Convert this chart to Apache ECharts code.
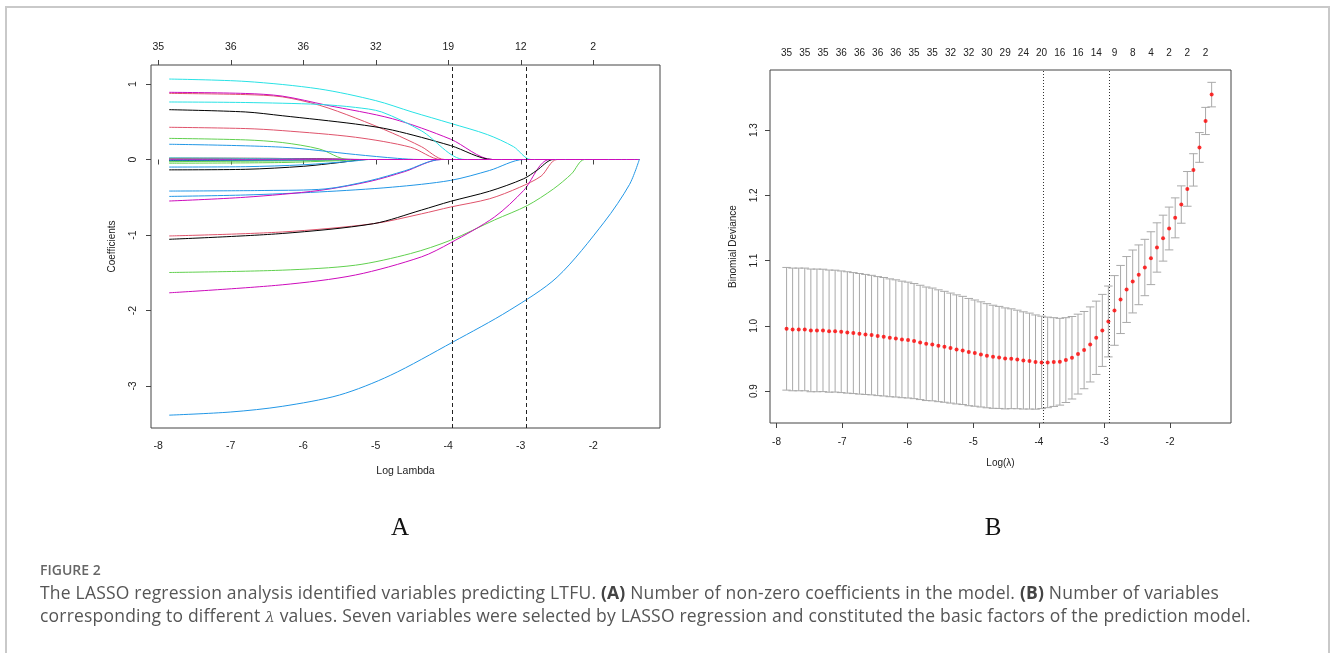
<!DOCTYPE html>
<html>
<head>
<meta charset="utf-8">
<title>Figure 2 - LASSO regression</title>
<script src="https://cdn.jsdelivr.net/npm/echarts@6/dist/echarts.min.js"></script>
<style>
  html, body { margin: 0; padding: 0; background: #fff; }
  body { width: 1330px; height: 653px; position: relative; overflow: hidden; }
  #frame { position: absolute; left: 5px; top: 6px; width: 1325px; height: 720px;
           border: 2px solid #c9c9c9; box-sizing: border-box; }
  #chart { position: absolute; left: 0; top: 0; width: 1330px; height: 653px; }
  .panel { position: absolute; top: 513px; width: 40px; margin-left: -20px; text-align: center;
           font-family: "Liberation Serif", serif; font-size: 25px; line-height: 28px; color: #111; }
  #caption { position: absolute; left: 40px; top: 560px; font-family: "Open Sans", sans-serif; color: #555; }
  #caption .fig { font-size: 14px; line-height: 20px; font-weight: 600; color: #666; }
  #caption .txt { margin-top: 1px; font-size: 17.5px; letter-spacing: 0.2px; line-height: 23px; white-space: nowrap; }
  #caption b { color: #444; }
  #caption i { font-family: "DejaVu Serif", serif; font-size: 15px; }
</style>
</head>
<body>
<div id="frame"></div>
<div id="chart"></div>
<div class="panel" style="left:400px">A</div>
<div class="panel" style="left:993px">B</div>
<div id="caption">
  <div class="fig">FIGURE 2</div>
  <div class="txt">The LASSO regression analysis identified variables predicting LTFU. <b>(A)</b> Number of non-zero coefficients in the model. <b>(B)</b> Number of variables<br>corresponding to different <i>λ</i> values. Seven variables were selected by LASSO regression and constituted the basic factors of the prediction model.</div>
</div>
<script>
// ---- panel A: coefficient paths, [log lambda, coefficient] knots per variable ----
const pathTicks = [-8, -7, -6, -5, -4, -3, -2];
const pathNonzero = [35, 36, 36, 32, 19, 12, 2];
const coefTicks = [-3, -2, -1, 0, 1];

const positivePaths = [
  { v: 2,  pts: [[-7.85, 0.876], [-6.8, 0.86], [-6.29, 0.83], [-5.78, 0.72], [-5.28, 0.55], [-4.77, 0.35], [-4.37, 0.17], [-4.05, 0], [-1.365, 0]] },
  { v: 3,  pts: [[-7.85, 0.28], [-6.8, 0.26], [-6.29, 0.225], [-5.78, 0.14], [-5.38, 0], [-1.365, 0]] },
  { v: 5,  pts: [[-7.85, 1.066], [-6.79, 1.034], [-5.78, 0.935], [-5.0, 0.78], [-4.5, 0.63], [-3.97, 0.48], [-3.46, 0.33], [-3.1, 0.17], [-2.86, 0], [-1.365, 0]] },
  { v: 6,  pts: [[-7.85, 0.89], [-6.8, 0.875], [-6.29, 0.84], [-5.68, 0.72], [-4.77, 0.54], [-3.97, 0.27], [-3.39, 0], [-1.365, 0]] },
  { v: 7,  pts: [[-7.85, 0.66], [-6.8, 0.63], [-6.29, 0.58], [-5.28, 0.47], [-4.77, 0.39], [-3.97, 0.185], [-3.39, 0], [-1.365, 0]] },
  { v: 8,  pts: [[-7.85, 0.427], [-6.8, 0.41], [-6.29, 0.383], [-5.28, 0.295], [-4.52, 0.163], [-4.1, 0], [-1.365, 0]] },
  { v: 11, pts: [[-7.85, 0.762], [-6.8, 0.755], [-5.78, 0.73], [-5.28, 0.69], [-4.92, 0.63], [-4.37, 0.38], [-3.77, 0], [-1.365, 0]] },
  { v: 28, pts: [[-7.85, 0.202], [-6.29, 0.163], [-5.28, 0.066], [-4.7, 0.015], [-4.4, 0], [-1.365, 0]] },
];

const negativePaths = [
  { v: 4,  pts: [[-7.85, -3.387], [-7.0, -3.345], [-6.29, -3.27], [-5.5, -3.12], [-4.8, -2.86], [-3.94, -2.42], [-3.16, -2.0], [-2.5, -1.56], [-1.85, -0.83], [-1.5, -0.33], [-1.365, 0]] },
  { v: 9,  pts: [[-7.85, -1.497], [-6.29, -1.466], [-5.28, -1.40], [-4.52, -1.246], [-3.97, -1.07], [-3.36, -0.80], [-2.91, -0.61], [-2.55, -0.39], [-2.3, -0.19], [-2.12, 0], [-1.365, 0]] },
  { v: 10, pts: [[-7.85, -0.489], [-6.8, -0.47], [-5.78, -0.43], [-4.77, -0.366], [-3.97, -0.277], [-3.43, -0.145], [-2.96, 0], [-1.365, 0]] },
  { v: 12, pts: [[-7.85, -0.55], [-6.8, -0.50], [-5.78, -0.41], [-5.08, -0.29], [-4.6, -0.16], [-4.1, 0], [-1.365, 0]] },
  { v: 14, pts: [[-7.85, -1.013], [-6.29, -0.96], [-5.03, -0.85], [-4.37, -0.72], [-3.97, -0.63], [-3.43, -0.52], [-3.02, -0.37], [-2.72, -0.22], [-2.50, 0], [-1.365, 0]] },
  { v: 16, pts: [[-7.85, -0.418], [-6.5, -0.41], [-5.7, -0.39], [-5.08, -0.28], [-4.6, -0.15], [-4.1, 0], [-1.365, 0]] },
  { v: 18, pts: [[-7.85, -1.766], [-6.29, -1.66], [-5.28, -1.53], [-4.37, -1.29], [-3.97, -1.105], [-3.36, -0.76], [-2.96, -0.41], [-2.6, 0], [-1.365, 0]] },
  { v: 19, pts: [[-7.85, -1.057], [-6.29, -0.98], [-5.03, -0.85], [-4.37, -0.67], [-3.97, -0.555], [-3.43, -0.42], [-2.96, -0.255], [-2.78, -0.145], [-2.55, 0], [-1.365, 0]] },
];

const nearZeroPaths = [
  { v: 1,  pts: [[-7.85, 0.017], [-6.5, 0.015], [-5.6, 0.006], [-5.2, 0], [-1.365, 0]] },
  { v: 13, pts: [[-7.85, -0.137], [-6.8, -0.13], [-6.0, -0.09], [-5.5, -0.04], [-5.13, 0], [-1.365, 0]] },
  { v: 15, pts: [[-7.85, -0.022], [-6.3, -0.02], [-5.6, -0.008], [-5.4, 0], [-1.365, 0]] },
  { v: 17, pts: [[-7.85, 0.005], [-5.6, 0], [-1.365, 0]] },
  { v: 20, pts: [[-7.85, 0.01], [-5.9, 0], [-1.365, 0]] },
  { v: 21, pts: [[-7.85, -0.049], [-6.3, -0.04], [-5.5, -0.015], [-5.1, 0], [-1.365, 0]] },
  { v: 22, pts: [[-7.85, -0.10], [-6.8, -0.095], [-6.0, -0.07], [-5.3, -0.02], [-5.1, 0], [-1.365, 0]] },
  { v: 23, pts: [[-7.85, -0.015], [-6.0, 0], [-1.365, 0]] },
  { v: 24, pts: [[-7.85, 0.012], [-6.0, 0.008], [-5.3, 0], [-1.365, 0]] },
  { v: 25, pts: [[-7.85, -0.006], [-5.8, 0], [-1.365, 0]] },
  { v: 26, pts: [[-7.85, -0.006], [-5.4, 0], [-1.365, 0]] },
  { v: 27, pts: [[-7.85, -0.03], [-6.2, -0.01], [-5.0, 0], [-1.365, 0]] },
  { v: 29, pts: [[-7.85, 0.02], [-6.4, 0.01], [-5.6, 0], [-1.365, 0]] },
  { v: 30, pts: [[-7.85, -0.004], [-5.0, 0], [-1.365, 0]] },
  { v: 31, pts: [[-7.85, -0.012], [-5.8, 0], [-1.365, 0]] },
  { v: 32, pts: [[-7.85, 0.004], [-6.5, 0], [-1.365, 0]] },
  { v: 33, pts: [[-7.85, 0.006], [-5.2, 0], [-1.365, 0]] },
  { v: 34, pts: [[-7.85, -0.009], [-6.3, -0.008], [-5.2, 0], [-1.365, 0]] },
  { v: 35, pts: [[-7.85, -0.002], [-6.8, 0], [-1.365, 0]] },
  { v: 36, pts: [[-7.85, 0.003], [-5.6, 0.002], [-5.1, 0], [-1.365, 0]] },
];

// ---- panel B: cross-validation curve ----
const logLambda = [
  -7.847, -7.755, -7.662, -7.570, -7.477, -7.384, -7.292, -7.199, -7.107, -7.014,
  -6.921, -6.829, -6.736, -6.644, -6.551, -6.458, -6.366, -6.273, -6.181, -6.088,
  -5.995, -5.903, -5.810, -5.718, -5.625, -5.532, -5.440, -5.347, -5.255, -5.162,
  -5.069, -4.977, -4.884, -4.792, -4.699, -4.606, -4.514, -4.421, -4.329, -4.236,
  -4.143, -4.051, -3.958, -3.866, -3.773, -3.680, -3.588, -3.495, -3.403, -3.310,
  -3.217, -3.125, -3.032, -2.940, -2.847, -2.754, -2.662, -2.569, -2.477, -2.384,
  -2.291, -2.199, -2.106, -2.014, -1.921, -1.828, -1.736, -1.643, -1.551, -1.458,
  -1.365
];
const cvMean = [
  0.9954, 0.9944, 0.9944, 0.9944, 0.9929, 0.9929, 0.9929, 0.9918, 0.9918, 0.9908,
  0.9898, 0.9888, 0.9877, 0.9867, 0.9857, 0.9842, 0.9832, 0.9816, 0.9806, 0.9791,
  0.9781, 0.9765, 0.9745, 0.9724, 0.9714, 0.9694, 0.9678, 0.9658, 0.9638, 0.9622,
  0.9597, 0.9581, 0.9561, 0.9541, 0.9525, 0.9515, 0.9500, 0.9495, 0.9484, 0.9469,
  0.9459, 0.9444, 0.9439, 0.9439, 0.9444, 0.9449, 0.9474, 0.9510, 0.9566, 0.9627,
  0.9714, 0.9816, 0.9929, 1.0066, 1.0235, 1.0403, 1.0556, 1.0679, 1.0781, 1.0893,
  1.1036, 1.1200, 1.1343, 1.1491, 1.1654, 1.1858, 1.2098, 1.2389, 1.2733, 1.3139,
  1.3543
];
const cvSd = [
  0.0940, 0.0940, 0.0940, 0.0940, 0.0940, 0.0940, 0.0938, 0.0936, 0.0934, 0.0932,
  0.0930, 0.0927, 0.0924, 0.0920, 0.0916, 0.0912, 0.0908, 0.0903, 0.0898, 0.0893,
  0.0888, 0.0882, 0.0876, 0.0870, 0.0864, 0.0857, 0.0850, 0.0843, 0.0836, 0.0829,
  0.0822, 0.0814, 0.0806, 0.0798, 0.0790, 0.0782, 0.0774, 0.0765, 0.0755, 0.0745,
  0.0735, 0.0722, 0.0708, 0.0694, 0.0680, 0.0665, 0.0650, 0.0632, 0.0612, 0.0592,
  0.0575, 0.0562, 0.0552, 0.0543, 0.0534, 0.0522, 0.0505, 0.0482, 0.0458, 0.0432,
  0.0405, 0.0378, 0.0352, 0.0328, 0.0306, 0.0286, 0.0266, 0.0248, 0.0228, 0.0208,
  0.0188
];
// number of non-zero coefficients, shown for every third lambda
const cvNonzero = [35, 35, 35, 36, 36, 36, 36, 35, 35, 32, 32, 30, 29, 24, 20, 16, 16, 14, 9, 8, 4, 2, 2, 2];
const cvTicksX = [-8, -7, -6, -5, -4, -3, -2];
const cvTicksY = [0.9, 1.0, 1.1, 1.2, 1.3];
const logLambdaMin = -3.94;
const logLambda1se = -2.92;

// ---- styles ----
const palette = ['#000000', '#DF536B', '#61D04F', '#2297E6', '#28E2E5', '#CD0BBC'];
const FONT = '"Liberation Sans", Arial, sans-serif';
const INK = '#222';
const BOX = '#444';
const CAP_HALF = 0.065;

const chart = echarts.init(document.getElementById('chart'));

const topLambda = cvNonzero.map((_, k) => logLambda[3 * k]);

const label = (extra) => Object.assign({ fontFamily: FONT, fontSize: 10, color: INK }, extra);
const tick = (values, extra) => Object.assign({ customValues: values, length: 5, lineStyle: { color: BOX, width: 1 } }, extra);

const allPaths = [...positivePaths, ...negativePaths, ...nearZeroPaths].sort((a, b) => a.v - b.v);

const pathSeries = allPaths.map((p) => ({
  type: 'line',
  xAxisIndex: 0,
  yAxisIndex: 0,
  data: p.pts,
  smooth: 0.3,
  showSymbol: false,
  silent: true,
  lineStyle: { width: 1, color: palette[(p.v - 1) % 6] },
  z: 2,
}));

const option = {
  animation: false,
  grid: [
    { left: 151, top: 65, width: 509, height: 363, show: true, borderColor: BOX, borderWidth: 1 },
    { left: 770, top: 70, width: 461, height: 353, show: true, borderColor: BOX, borderWidth: 1 },
  ],
  xAxis: [
    {
      gridIndex: 0, type: 'value', position: 'bottom', min: -8.10, max: -1.08,
      axisLine: { show: false }, splitLine: { show: false },
      axisTick: tick(pathTicks),
      axisLabel: label({ customValues: pathTicks, margin: 13, fontSize: 10.5 }),
      name: 'Log Lambda', nameLocation: 'middle', nameGap: 38,
      nameTextStyle: { fontFamily: FONT, fontSize: 10.5, color: INK },
    },
    {
      gridIndex: 0, type: 'value', position: 'top', min: -8.10, max: -1.08,
      axisLine: { show: false }, splitLine: { show: false },
      axisTick: tick(pathTicks),
      axisLabel: label({
        customValues: pathTicks, margin: 12, fontSize: 10.5,
        formatter: (v) => String(pathNonzero[pathTicks.indexOf(v)]),
      }),
    },
    {
      gridIndex: 1, type: 'value', position: 'bottom', min: -8.10, max: -1.07,
      axisLine: { show: false }, splitLine: { show: false },
      axisTick: tick(cvTicksX),
      axisLabel: label({ customValues: cvTicksX, margin: 14 }),
      name: 'Log(λ)', nameLocation: 'middle', nameGap: 35,
      nameTextStyle: { fontFamily: FONT, fontSize: 10, color: INK },
    },
    {
      gridIndex: 1, type: 'value', position: 'top', min: -8.10, max: -1.07,
      axisLine: { show: false }, splitLine: { show: false }, axisTick: { show: false },
      axisLabel: label({
        customValues: topLambda, margin: 12,
        formatter: (v) => String(cvNonzero[topLambda.indexOf(v)]),
      }),
    },
  ],
  yAxis: [
    {
      gridIndex: 0, type: 'value', min: -3.557, max: 1.252,
      axisLine: { show: false }, splitLine: { show: false },
      axisTick: tick(coefTicks),
      axisLabel: label({ customValues: coefTicks, rotate: 90, margin: 12, fontSize: 10.5 }),
      name: 'Coefficients', nameLocation: 'middle', nameGap: 34,
      nameTextStyle: { fontFamily: FONT, fontSize: 10, color: INK },
    },
    {
      gridIndex: 1, type: 'value', min: 0.851, max: 1.392,
      axisLine: { show: false }, splitLine: { show: false },
      axisTick: tick(cvTicksY),
      axisLabel: label({ customValues: cvTicksY, rotate: 90, margin: 11, formatter: (v) => v.toFixed(1) }),
      name: 'Binomial Deviance', nameLocation: 'middle', nameGap: 32,
      nameTextStyle: { fontFamily: FONT, fontSize: 10, color: INK },
    },
  ],
  series: [
    ...pathSeries,
    {
      type: 'line', xAxisIndex: 0, yAxisIndex: 0, data: [], silent: true, z: 5,
      markLine: {
        silent: true, symbol: 'none', label: { show: false },
        lineStyle: { color: '#222', width: 1, type: [4, 3] },
        data: [{ xAxis: logLambdaMin }, { xAxis: logLambda1se }],
      },
    },
    {
      type: 'custom', xAxisIndex: 2, yAxisIndex: 1, silent: true, z: 2,
      data: logLambda.map((x, i) => [x, cvMean[i] - cvSd[i], cvMean[i] + cvSd[i]]),
      renderItem: (params, api) => {
        const x = api.value(0);
        const lo = api.value(1);
        const hi = api.value(2);
        const pTop = api.coord([x, hi]);
        const pBot = api.coord([x, lo]);
        const xl = api.coord([x - CAP_HALF, hi])[0];
        const xr = api.coord([x + CAP_HALF, hi])[0];
        const style = { stroke: '#a9a9a9', lineWidth: 1, fill: null };
        return {
          type: 'group',
          children: [
            { type: 'line', shape: { x1: pTop[0], y1: pTop[1], x2: pBot[0], y2: pBot[1] }, style },
            { type: 'line', shape: { x1: xl, y1: pTop[1], x2: xr, y2: pTop[1] }, style },
            { type: 'line', shape: { x1: xl, y1: pBot[1], x2: xr, y2: pBot[1] }, style },
          ],
        };
      },
    },
    {
      type: 'scatter', xAxisIndex: 2, yAxisIndex: 1, silent: true, z: 4,
      data: logLambda.map((x, i) => [x, cvMean[i]]),
      symbol: 'circle', symbolSize: 4,
      itemStyle: { color: '#ff0000' },
      markLine: {
        silent: true, symbol: 'none', label: { show: false },
        lineStyle: { color: '#333', width: 1, type: [1, 2] },
        data: [{ xAxis: logLambdaMin }, { xAxis: logLambda1se }],
      },
    },
  ],
};

chart.setOption(option);
window.addEventListener('resize', chart.resize);
</script>
</body>
</html>
